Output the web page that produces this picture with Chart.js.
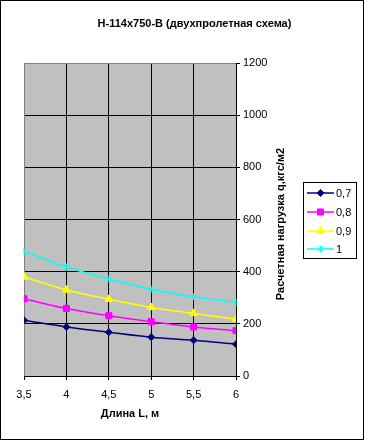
<!DOCTYPE html>
<html><head><meta charset="utf-8">
<script src="https://cdn.jsdelivr.net/npm/chart.js@4.4.0/dist/chart.umd.min.js"></script>
<style>html,body{margin:0;padding:0;background:#fff}canvas{display:block}</style>
</head><body>
<canvas id="c" width="365" height="441"></canvas>
<script>
const lengths = [3.5, 4, 4.5, 5, 5.5, 6];
const seriesNames = ['0,7', '0,8', '0,9', '1'];
const s07 = [214, 188, 168, 149, 137, 122];
const s08 = [296, 259, 231, 208, 188, 174];
const s09 = [380, 330, 294, 263, 240, 218];
const s10 = [478, 418, 372, 333, 304, 282];
const xTicks = [3.5, 4, 4.5, 5, 5.5, 6];
const yTicks = [0, 200, 400, 600, 800, 1000, 1200];
const chartTitle = 'Н-114х750-В (двухпролетная схема)';
const xTitle = 'Длина L, м';
const yTitle = 'Расчетная нагрузка q,кгс/м2';

const FONT = 'Liberation Sans, Arial, sans-serif';
Chart.defaults.color = '#000';
Chart.defaults.font.family = FONT;
Chart.defaults.font.size = 11;

const styles = [
  {color: '#000080', point: 'rectRot', radius: 3.5},
  {color: '#FF00FF', point: 'rect', radius: 4.3},
  {color: '#FFFF00', point: 'triangle', radius: 4.5},
  {color: '#00FFFF', point: 'crossRot', radius: 3}
];
const values = [s07, s08, s09, s10];

const datasets = values.map((vals, i) => ({
  label: seriesNames[i],
  data: vals.map((v, j) => ({x: lengths[j], y: v})),
  borderColor: styles[i].color,
  backgroundColor: styles[i].color,
  pointBackgroundColor: styles[i].color,
  pointBorderColor: styles[i].color,
  pointStyle: styles[i].point,
  pointRadius: styles[i].radius,
  pointBorderWidth: 1,
  borderWidth: 1.5,
  tension: 0.35,
  fill: false
}));

function drawStarMark(ctx, x, y, r) {
  ctx.beginPath();
  ctx.moveTo(x - r, y - r); ctx.lineTo(x + r, y + r);
  ctx.moveTo(x - r, y + r); ctx.lineTo(x + r, y - r);
  ctx.moveTo(x, y - r - 0.5); ctx.lineTo(x, y + r + 0.5);
  ctx.stroke();
}

const deco = {
  id: 'deco',
  beforeDraw(chart) {
    const {ctx, chartArea: a} = chart;
    ctx.save();
    ctx.fillStyle = '#fff';
    ctx.fillRect(0, 0, chart.width, chart.height);
    ctx.fillStyle = '#C0C0C0';
    ctx.fillRect(a.left, a.top, a.right - a.left, a.bottom - a.top);
    ctx.restore();
  },
  beforeDatasetsDraw(chart) {
    const {ctx, chartArea: a} = chart;
    ctx.save();
    ctx.strokeStyle = '#808080';
    ctx.lineWidth = 1;
    ctx.beginPath();
    ctx.moveTo(Math.round(a.left) + 0.5, Math.round(a.bottom));
    ctx.lineTo(Math.round(a.left) + 0.5, Math.round(a.top) + 0.5);
    ctx.lineTo(Math.round(a.right), Math.round(a.top) + 0.5);
    ctx.stroke();
    ctx.restore();
  },
  afterDatasetsDraw(chart) {
    const {ctx} = chart;
    const meta = chart.getDatasetMeta(3);
    ctx.save();
    ctx.strokeStyle = chart.data.datasets[3].borderColor;
    ctx.lineWidth = 1;
    meta.data.forEach(p => {
      ctx.beginPath();
      ctx.moveTo(p.x, p.y - 3.5); ctx.lineTo(p.x, p.y + 3.5);
      ctx.stroke();
    });
    ctx.restore();
  },
  afterDraw(chart) {
    const {ctx} = chart;
    ctx.save();
    ctx.font = 'bold 11px ' + FONT;
    ctx.fillStyle = '#000';
    ctx.textAlign = 'center';
    ctx.textBaseline = 'middle';
    ctx.translate(280.5, 224);
    ctx.rotate(-Math.PI / 2);
    ctx.fillText(yTitle, 0, 0);
    ctx.restore();

    ctx.save();
    ctx.strokeStyle = '#000';
    ctx.lineWidth = 1;
    ctx.strokeRect(303.5, 182.5, 53, 76);
    ctx.font = '11px ' + FONT;
    ctx.textAlign = 'left';
    ctx.textBaseline = 'middle';
    const rows = [193, 212, 231, 249];
    chart.data.datasets.forEach((ds, i) => {
      const y = rows[i];
      ctx.strokeStyle = ds.borderColor;
      ctx.lineWidth = 1.5;
      ctx.beginPath();
      ctx.moveTo(307, y);
      ctx.lineTo(334, y);
      ctx.stroke();
      ctx.fillStyle = ds.pointBackgroundColor;
      ctx.strokeStyle = ds.pointBorderColor;
      ctx.lineWidth = 1;
      if (i === 3) {
        drawStarMark(ctx, 320.5, y, 3);
      } else {
        Chart.helpers.drawPoint(ctx, {pointStyle: ds.pointStyle, radius: ds.pointRadius, rotation: 0, borderWidth: 1}, 320.5, y);
      }
      ctx.fillStyle = '#000';
      ctx.fillText(ds.label, 336, y + 1);
    });
    ctx.strokeStyle = '#000';
    ctx.lineWidth = 1;
    ctx.strokeRect(0.5, 0.5, 363, 439);
    ctx.restore();
  }
};

new Chart(document.getElementById('c'), {
  type: 'line',
  data: {datasets},
  plugins: [deco],
  options: {
    responsive: false,
    animation: false,
    devicePixelRatio: 1,
    layout: {padding: {left: 24, top: 0, right: 0, bottom: 0}},
    plugins: {
      legend: {display: false},
      tooltip: {enabled: false},
      title: {
        display: true,
        text: chartTitle,
        font: {size: 11, weight: 'bold', family: FONT},
        color: '#000',
        padding: {top: 17.4, bottom: 32.4}
      }
    },
    scales: {
      x: {
        type: 'linear',
        min: 3.5, max: 6,
        afterBuildTicks(s) { s.ticks = xTicks.map(v => ({value: v})); },
        afterFit(s) { s.height = 65; },
        ticks: {
          padding: 8,
          maxRotation: 0,
          font: {size: 11},
          callback: v => String(v).replace('.', ',')
        },
        grid: {
          color: c => (c.tick && c.tick.value === 3.5) ? 'rgba(0,0,0,0)' : '#000',
          tickColor: '#000',
          tickLength: 4,
          lineWidth: 1
        },
        border: {color: '#000', width: 1},
        title: {
          display: true,
          text: xTitle,
          font: {size: 11, weight: 'bold'},
          padding: {top: 0, bottom: 20.4}
        }
      },
      y: {
        position: 'right',
        min: 0, max: 1200,
        afterBuildTicks(s) { s.ticks = yTicks.map(v => ({value: v})); },
        afterFit(s) { s.width = 129; },
        ticks: {padding: 3, font: {size: 11}, callback: v => String(v)},
        grid: {
          color: c => (c.tick && c.tick.value === 1200) ? 'rgba(0,0,0,0)' : '#000',
          tickColor: '#000',
          tickLength: 4,
          lineWidth: 1
        },
        border: {color: '#000', width: 1},
        title: {display: false}
      }
    }
  }
});
</script>
</body></html>
